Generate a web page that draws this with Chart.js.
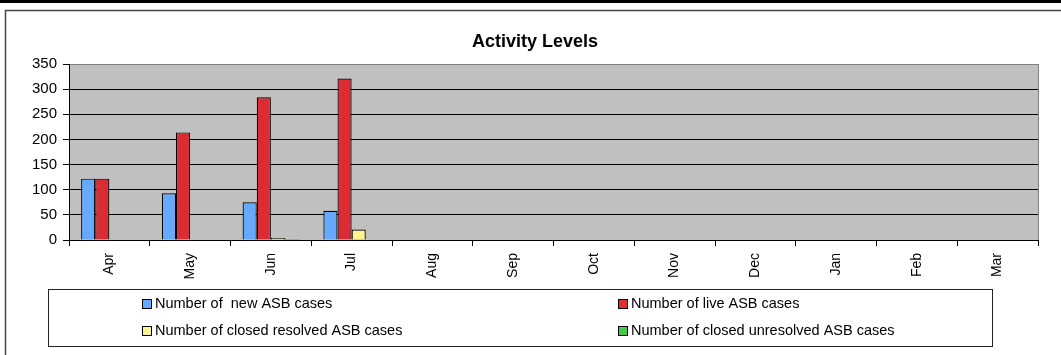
<!DOCTYPE html>
<html>
<head>
<meta charset="utf-8">
<title>Activity Levels</title>
<script src="https://cdn.jsdelivr.net/npm/chart.js@4/dist/chart.umd.min.js"></script>
<style>
  html, body { margin: 0; padding: 0; background: #fff; }
  #wrap { position: relative; width: 1061px; height: 355px; }
</style>
</head>
<body>
<div id="wrap"><canvas id="activityChart" width="1061" height="355"></canvas></div>
<script>
// Data (months with no bars are left empty)
const months = ['Apr', 'May', 'Jun', 'Jul', 'Aug', 'Sep', 'Oct', 'Nov', 'Dec', 'Jan', 'Feb', 'Mar'];
const newCases = [122, 93, 75, 58, null, null, null, null, null, null, null, null];
const liveCases = [122, 214, 284, 321, null, null, null, null, null, null, null, null];
const closedResolved = [0, 1, 4, 21, null, null, null, null, null, null, null, null];
const closedUnresolved = [0, 0, 2, 1, null, null, null, null, null, null, null, null];
const yTicks = [0, 50, 100, 150, 200, 250, 300, 350];

const FONT = '"Liberation Sans", Arial, sans-serif';

// Frame, plot background, title and boxed legend (Excel look)
const excelFrame = {
  id: 'excelFrame',
  beforeDraw(chart) {
    const { ctx, chartArea: a } = chart;
    ctx.save();
    ctx.fillStyle = '#000';
    ctx.fillRect(0, 0, chart.width, 3);
    ctx.strokeStyle = '#444';
    ctx.lineWidth = 1.5;
    ctx.beginPath();
    ctx.moveTo(5.5, chart.height);
    ctx.lineTo(5.5, 10.5);
    ctx.lineTo(chart.width, 10.5);
    ctx.stroke();
    ctx.fillStyle = '#c0c0c0';
    ctx.fillRect(a.left, a.top, a.right - a.left, a.bottom - a.top);
    ctx.restore();
  },
  afterDraw(chart) {
    const { ctx, chartArea: a } = chart;
    ctx.save();
    // right edge of plot
    ctx.strokeStyle = '#808080';
    ctx.lineWidth = 1;
    ctx.beginPath();
    ctx.moveTo(a.right + 0.5, a.top);
    ctx.lineTo(a.right + 0.5, a.bottom);
    ctx.stroke();

    // title
    ctx.fillStyle = '#000';
    ctx.font = 'bold 18px ' + FONT;
    ctx.textAlign = 'center';
    ctx.textBaseline = 'middle';
    ctx.fillText('Activity Levels', 535, 42);

    // legend box
    ctx.strokeStyle = '#222';
    ctx.strokeRect(48.5, 289.5, 944, 57);
    const cols = [142, 618];
    const rows = [304, 331];
    ctx.font = '14.5px ' + FONT;
    ctx.textAlign = 'left';
    chart.data.datasets.forEach((ds, i) => {
      const x = cols[i % 2];
      const y = rows[Math.floor(i / 2)];
      ctx.fillStyle = ds.backgroundColor;
      ctx.fillRect(x, y - 5, 9, 9);
      ctx.strokeStyle = '#000';
      ctx.strokeRect(x + 0.5, y - 4.5, 9, 9);
      ctx.fillStyle = '#000';
      ctx.fillText(ds.label, x + 13, y);
    });
    ctx.restore();
  }
};

const bar = (label, data, color) => ({
  label, data,
  backgroundColor: color,
  borderColor: '#000',
  borderWidth: 1.2,
  borderSkipped: 'start',
  barPercentage: 1.0,
  categoryPercentage: 0.7
});

new Chart(document.getElementById('activityChart'), {
  type: 'bar',
  data: {
    labels: months,
    datasets: [
      bar('Number of  new ASB cases', newCases, '#66aaff'),
      bar('Number of live ASB cases', liveCases, '#dd2b33'),
      bar('Number of closed resolved ASB cases', closedResolved, '#fff38f'),
      bar('Number of closed unresolved ASB cases', closedUnresolved, '#44cc44')
    ]
  },
  options: {
    responsive: false,
    animation: false,
    layout: { padding: { left: 6, top: 64, right: 23, bottom: 0 } },
    plugins: {
      legend: { display: false },
      title: { display: false },
      tooltip: { enabled: false }
    },
    scales: {
      x: {
        afterFit: (s) => { s.height = 115; },
        grid: { offset: true, drawOnChartArea: false, drawTicks: true, tickLength: 6, color: '#000' },
        border: { color: '#000', width: 1 },
        ticks: { color: '#000', font: { family: FONT, size: 14 }, minRotation: 90, maxRotation: 90, padding: 7 }
      },
      y: {
        min: 0,
        max: yTicks[yTicks.length - 1],
        afterFit: (s) => { s.width = 63; },
        afterBuildTicks: (s) => { s.ticks = yTicks.map(v => ({ value: v })); },
        grid: {
          color: (c) => (c.tick && c.tick.value === 350 ? '#808080' : '#000'),
          tickColor: '#000',
          tickLength: 6
        },
        border: { color: '#000', width: 1 },
        ticks: { color: '#000', font: { family: FONT, size: 15 }, padding: 6 }
      }
    }
  },
  plugins: [excelFrame]
});
</script>
</body>
</html>
